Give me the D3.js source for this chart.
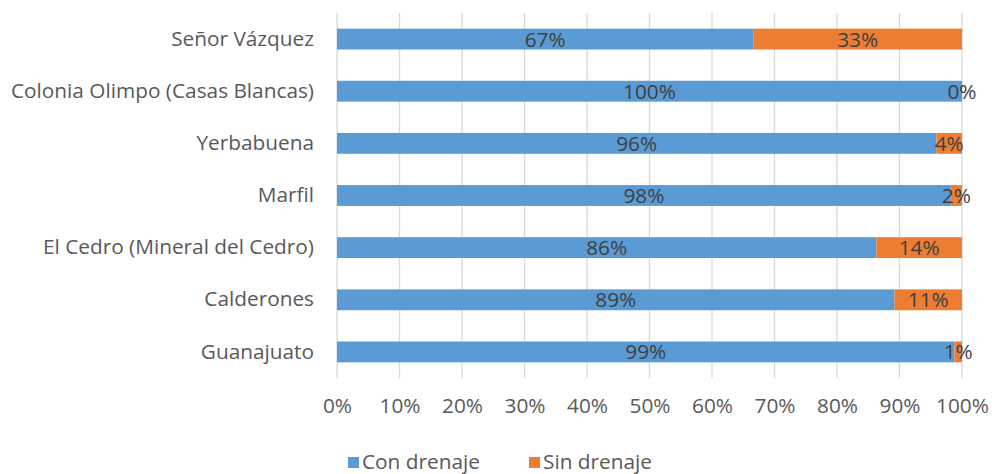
<!DOCTYPE html>
<html><head><meta charset="utf-8">
<script src="https://cdn.jsdelivr.net/npm/d3@7"></script>
<style>body{margin:0;background:#fff}svg{display:block}</style>
</head><body><svg id="c" width="992" height="474"></svg>
<script>
const categories = ["Señor Vázquez","Colonia Olimpo (Casas Blancas)","Yerbabuena","Marfil","El Cedro (Mineral del Cedro)","Calderones","Guanajuato"];
const conDrenaje = [0.666,1.000,0.959,0.982,0.863,0.892,0.988];
const sinDrenaje = [0.334,0.000,0.041,0.018,0.137,0.108,0.012];
const seriesNames = ["Con drenaje","Sin drenaje"];
const tickValues = [0,0.1,0.2,0.3,0.4,0.5,0.6,0.7,0.8,0.9,1];
const colors = ["#5b9bd5","#ed7d31"];

(function(){
const svg = d3.select("#c");
const font = "'Open Sans', sans-serif";
const fs = 20.8;
const pL = 337, pR = 962, pT = 13, pB = 378;
const x = d3.scaleLinear().domain([0,1]).range([pL,pR]);
const y = d3.scaleBand().domain(categories).range([pT,pB]).paddingInner(0.6).paddingOuter(0.3);

const rows = categories.map((c,i)=>({cat:c, v:[conDrenaje[i], sinDrenaje[i]]}));

svg.append("g").selectAll("line").data(tickValues).join("line")
  .attr("x1",d=>x(d)).attr("x2",d=>x(d)).attr("y1",pT).attr("y2",pB)
  .attr("stroke","#d9d9d9").attr("stroke-width",1.3);

const g = svg.append("g");
rows.forEach(r=>{
  let acc = 0;
  r.v.forEach((v,j)=>{
    g.append("rect").attr("x",x(acc)).attr("y",y(r.cat)).attr("width",x(acc+v)-x(acc)).attr("height",y.bandwidth()).attr("fill",colors[j]);
    acc += v;
  });
});
rows.forEach(r=>{
  let acc = 0;
  r.v.forEach((v,j)=>{
    g.append("text").attr("x",(x(acc)+x(acc+v))/2).attr("y",y(r.cat)+y.bandwidth()/2).attr("dy","0.36em")
      .attr("text-anchor","middle").attr("font-family",font).attr("font-size",fs).attr("fill","#404040")
      .text(d3.format(".0%")(v));
    acc += v;
  });
});

const ya = svg.append("g").attr("transform",`translate(${pL},0)`).call(d3.axisLeft(y).tickSize(0).tickPadding(23));
ya.select(".domain").remove();
ya.selectAll("text").attr("font-family",font).attr("font-size",fs).attr("fill","#595959");

const xa = svg.append("g").attr("transform",`translate(0,${pB})`).call(d3.axisBottom(x).tickValues(tickValues).tickFormat(d3.format(".0%")).tickSize(0).tickPadding(20));
xa.select(".domain").remove();
xa.selectAll("text").attr("font-family",font).attr("font-size",fs).attr("fill","#595959");

const leg = svg.append("g");
const lx = [348, 529];
seriesNames.forEach((n,i)=>{
  leg.append("rect").attr("x",lx[i]).attr("y",457).attr("width",11).attr("height",11).attr("fill",colors[i]);
  leg.append("text").attr("x",lx[i]+14).attr("y",462).attr("dy","0.36em").attr("font-family",font).attr("font-size",fs).attr("fill","#595959").text(n);
});
})();
</script></body></html>
